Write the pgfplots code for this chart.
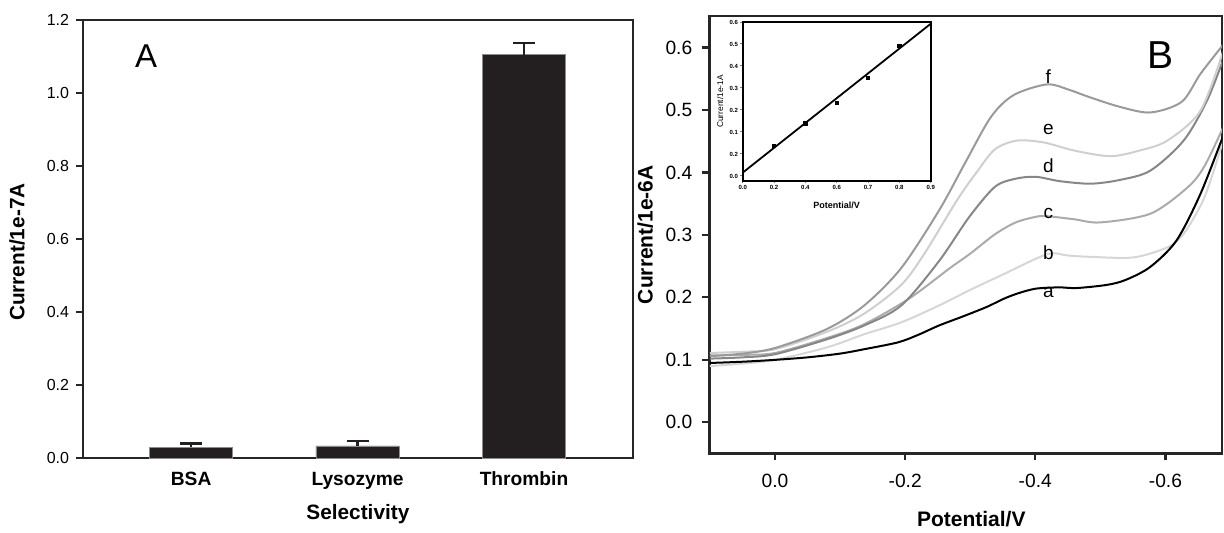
\documentclass[border=0pt]{standalone}
\usepackage{pgfplots}
\pgfplotsset{compat=1.18}
\usepackage{fontspec}
\setmainfont{Liberation Sans}
\definecolor{barc}{HTML}{231F20}
\definecolor{cf}{HTML}{9A9A9A}
\definecolor{ce}{HTML}{CFCFCF}
\definecolor{cd}{HTML}{878787}
\definecolor{cc}{HTML}{ABABAB}
\definecolor{cb}{HTML}{D6D6D6}

\begin{document}
\begin{tikzpicture}
\useasboundingbox (0,0) rectangle (612pt,266pt);

% panel A: selectivity
\begin{axis}[
  at={(41.55pt,37pt)}, anchor=south west,
  width=274.8pt, height=219pt, scale only axis,
  xmin=-0.649, xmax=2.653, ymin=0, ymax=1.2,
  axis line style={line width=1.2pt, color=black!85},
  tick style={line width=1.1pt, color=black!85},
  tick align=outside, major tick length=3.5pt,
  ytick={0,0.2,0.4,0.6,0.8,1.0,1.2}, ytick pos=left,
  yticklabel style={font=\fontsize{8}{9}\selectfont, /pgf/number format/fixed,
    /pgf/number format/fixed zerofill, /pgf/number format/precision=1},
  /pgf/number format/assume math mode=true,
  xtick={0,1,2}, xticklabels={BSA,Lysozyme,Thrombin},
  xtick style={draw=none}, xtick pos=bottom,
  xticklabel style={font=\bfseries\fontsize{9.6}{11}\selectfont},
  xlabel={Selectivity}, ylabel={Current/1e-7A},
  label style={font=\bfseries\fontsize{10.4}{12}\selectfont},
  xlabel style={at={(axis description cs:0.5,-0.128)}, anchor=center},
  ylabel style={at={(axis description cs:-0.12,0.47)}, anchor=center},
]
\addplot[ybar, bar width=0.5, fill=barc, draw=black!45, line width=0.4pt,
  error bars/.cd, y dir=plus, y explicit,
  error bar style={line width=1.3pt, color=barc},
  error mark options={rotate=90, mark size=5.5pt, line width=1.3pt, color=barc}]
  coordinates {(0,0.030) +- (0,0.010) (1,0.033) +- (0,0.014) (2,1.105) +- (0,0.032)};
\node[font=\fontsize{16.5}{18}\selectfont] at (axis cs:-0.27,1.10) {A};
\end{axis}

% panel B: curves
\begin{axis}[
  at={(354.65pt,39.35pt)}, anchor=south west,
  width=256.35pt, height=218.65pt, scale only axis,
  x dir=reverse, xmin=-0.687, xmax=0.101, ymin=-0.0496, ymax=0.6504,
  axis line style={line width=1.2pt, color=black!85},
  tick style={line width=1.1pt, color=black!85},
  tick align=outside, major tick length=3.5pt,
  xtick={0,-0.2,-0.4,-0.6}, ytick={0,0.1,0.2,0.3,0.4,0.5,0.6},
  xtick pos=bottom, ytick pos=left,
  /pgf/number format/assume math mode=true,
  ticklabel style={font=\fontsize{9.6}{11}\selectfont, /pgf/number format/fixed,
    /pgf/number format/fixed zerofill, /pgf/number format/precision=1},
  xticklabel style={yshift=-3.5pt},
  yticklabel style={xshift=-1.5pt},
  xlabel={Potential/V}, ylabel={Current/1e-6A},
  label style={font=\bfseries\fontsize{10.5}{12}\selectfont},
  xlabel style={at={(axis description cs:0.511,-0.150)}, anchor=center},
  ylabel style={at={(axis description cs:-0.125,0.5)}, anchor=center},
  every axis plot/.append style={line width=1pt, smooth},
]
\addplot[cb] coordinates {(0.10,0.090) (0.05,0.094) (0,0.100) (-0.08,0.120) (-0.137,0.141) (-0.194,0.160)
  (-0.252,0.187) (-0.30,0.212) (-0.349,0.236) (-0.418,0.269) (-0.45,0.267) (-0.482,0.265) (-0.551,0.264)
  (-0.603,0.280) (-0.625,0.298) (-0.643,0.326) (-0.66,0.360) (-0.675,0.405) (-0.69,0.455)};
\addplot[cc] coordinates {(0.10,0.107) (0.05,0.108) (0,0.111) (-0.08,0.135) (-0.137,0.157) (-0.206,0.198)
  (-0.269,0.247) (-0.30,0.270) (-0.338,0.301) (-0.37,0.320) (-0.401,0.329) (-0.418,0.330) (-0.46,0.325)
  (-0.50,0.320) (-0.577,0.334) (-0.634,0.376) (-0.66,0.410) (-0.69,0.475)};
\addplot[cd] coordinates {(0.10,0.102) (0.05,0.104) (0,0.109) (-0.08,0.133) (-0.137,0.155) (-0.194,0.187)
  (-0.252,0.258) (-0.298,0.328) (-0.338,0.377) (-0.37,0.390) (-0.401,0.393) (-0.438,0.386) (-0.485,0.382)
  (-0.53,0.388) (-0.577,0.403) (-0.628,0.451) (-0.664,0.515) (-0.69,0.584)};
\addplot[ce] coordinates {(0.10,0.111) (0.05,0.113) (0,0.117) (-0.08,0.145) (-0.137,0.174) (-0.194,0.220)
  (-0.229,0.269) (-0.28,0.356) (-0.309,0.399) (-0.338,0.437) (-0.372,0.451) (-0.413,0.448) (-0.46,0.435)
  (-0.515,0.426) (-0.56,0.435) (-0.603,0.451) (-0.654,0.499) (-0.69,0.598)};
\addplot[cf] coordinates {(0.10,0.106) (0.05,0.110) (0,0.119) (-0.079,0.149) (-0.137,0.187) (-0.194,0.247)
  (-0.252,0.339) (-0.292,0.415) (-0.332,0.489) (-0.367,0.524) (-0.418,0.541) (-0.45,0.533) (-0.482,0.521)
  (-0.53,0.505) (-0.577,0.496) (-0.625,0.513) (-0.654,0.558) (-0.69,0.606)};
\addplot[black] coordinates {(0.10,0.095) (0.05,0.097) (0,0.100) (-0.05,0.104) (-0.10,0.110) (-0.137,0.117)
  (-0.189,0.128) (-0.22,0.140) (-0.252,0.155) (-0.29,0.170) (-0.326,0.185) (-0.352,0.198) (-0.375,0.207)
  (-0.401,0.214) (-0.436,0.216) (-0.464,0.215) (-0.51,0.220) (-0.539,0.228) (-0.577,0.249) (-0.617,0.291)
  (-0.654,0.366) (-0.69,0.462)};
\node[font=\fontsize{9.5}{11}\selectfont] at (axis cs:-0.42,0.554) {f};
\node[font=\fontsize{9.5}{11}\selectfont] at (axis cs:-0.42,0.469) {e};
\node[font=\fontsize{9.5}{11}\selectfont] at (axis cs:-0.42,0.411) {d};
\node[font=\fontsize{9.5}{11}\selectfont] at (axis cs:-0.42,0.334) {c};
\node[font=\fontsize{9.5}{11}\selectfont] at (axis cs:-0.42,0.272) {b};
\node[font=\fontsize{9.5}{11}\selectfont] at (axis cs:-0.42,0.208) {a};
\node[font=\fontsize{19.5}{22}\selectfont] at (axis cs:-0.592,0.588) {B};
\end{axis}

% inset
\begin{axis}[
  at={(371.35pt,175.5pt)}, anchor=south west,
  width=94pt, height=79.5pt, scale only axis,
  axis background/.style={fill=white},
  xmin=0, xmax=6, ymin=-0.23, ymax=7,
  axis line style={line width=0.8pt},
  tick style={line width=0.5pt},
  tick align=outside, major tick length=1.2pt,
  xtick={0,1,2,3,4,5,6}, xticklabels={0.0,0.2,0.4,0.6,0.7,0.8,0.9},
  ytick={0,1,2,3,4,5,6,7}, yticklabels={0.0,0.2,0.1,0.2,0.3,0.4,0.5,0.6},
  xtick pos=bottom, ytick pos=left,
  ticklabel style={font=\bfseries\fontsize{3}{3.5}\selectfont, inner sep=1pt},
  xlabel={Potential/V}, ylabel={Current/1e-1A},
  xlabel style={font=\bfseries\fontsize{4.5}{5}\selectfont, at={(axis description cs:0.5,-0.15)}, anchor=center},
  ylabel style={font=\fontsize{4.2}{5}\selectfont, at={(axis description cs:-0.12,0.5)}, anchor=center},
]
\addplot[black, line width=0.9pt] coordinates {(0,0.15) (6,6.92)};
\addplot[only marks, mark=square*, mark size=0.8pt, black] coordinates {(1,1.35) (2,2.39) (3,3.32) (4,4.45) (5,5.90)};
\end{axis}
\end{tikzpicture}
\end{document}
